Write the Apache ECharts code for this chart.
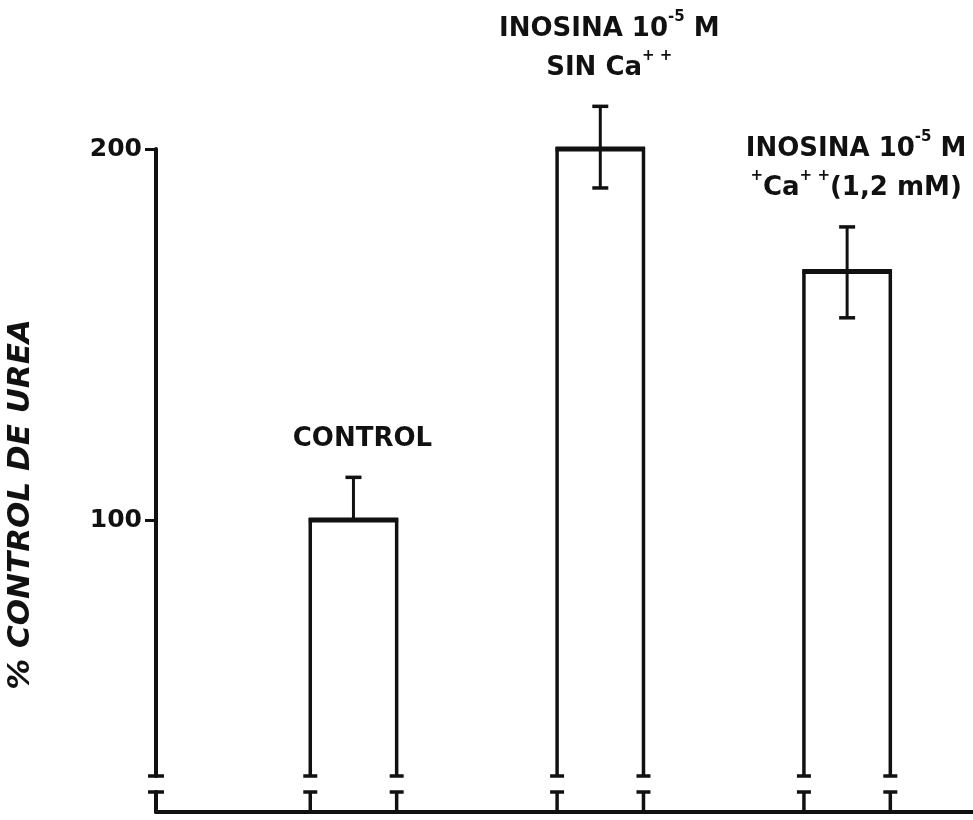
<!DOCTYPE html>
<html><head><meta charset="utf-8">
<script src="https://cdn.jsdelivr.net/npm/echarts@6/dist/echarts.min.js"></script>
<style>html,body{margin:0;padding:0;background:#fff}#c{width:973px;height:820px}</style>
</head><body><div id="c"></div>
<script>
// ---- data ----
const categories = ['CONTROL', 'INOSINA 10{s|-5} M\nSIN Ca{s|+ +}', 'INOSINA 10{s|-5} M\n{s|+}Ca{s|+ +}(1,2 mM)'];
const xPositions = [1, 2, 3];
const values = [100, 200, 167];
const errorUp = [11.5, 11.5, 12];
const errorDown = [0, 10.5, 12.5];
const yTickValues = [100, 200];
const yAxisTitle = '% CONTROL DE UREA';

// ---- layout constants ----
const UPPER_MIN = 31, UPPER_MAX = 200, LOWER_MIN = 0, LOWER_MAX = 5.4;
const X_MIN = 0.2, X_MAX = 3.51;
const BAR_W = 0.35;
const INK = '#111';
const FONT = 'DejaVu Sans';

const data = categories.map((c, i) => [xPositions[i], values[i], errorUp[i], errorDown[i], i]);

function seg(x1, y1, x2, y2, w) {
  return { type: 'line', shape: { x1, y1, x2, y2 }, style: { stroke: INK, lineWidth: w, lineCap: 'butt' } };
}

function renderUpper(params, api) {
  const x = api.value(0), v = api.value(1), eu = api.value(2), ed = api.value(3), idx = api.value(4);
  const top = api.coord([x, v]);
  const bot = api.coord([x, UPPER_MIN]);
  const hw = api.size([BAR_W, 0])[0] / 2;
  const L = top[0] - hw, R = top[0] + hw;
  const ch = [];
  ch.push(seg(L, top[1] - 2, L, bot[1], 3.5));
  ch.push(seg(R, top[1] - 2, R, bot[1], 3.5));
  ch.push(seg(L - 1.5, top[1], R + 1.5, top[1], 5));
  // break caps
  ch.push(seg(L - 7, bot[1], L + 7, bot[1], 3.5));
  ch.push(seg(R - 7, bot[1], R + 7, bot[1], 3.5));
  // error bar
  const eTop = api.coord([x, v + eu]);
  const eBot = api.coord([x, v - ed]);
  ch.push(seg(top[0], eTop[1], top[0], eBot[1], 3));
  ch.push(seg(top[0] - 8, eTop[1], top[0] + 8, eTop[1], 3.5));
  if (ed > 0) ch.push(seg(top[0] - 8, eBot[1], top[0] + 8, eBot[1], 3.5));
  // annotation
  ch.push({
    type: 'text', x: top[0] + 9, y: eTop[1] - 19,
    style: {
      text: categories[idx], fill: INK, align: 'center', verticalAlign: 'bottom',
      fontFamily: FONT, fontSize: 26, fontWeight: 'bold', lineHeight: 39,
      rich: { s: { fontSize: 15, fontWeight: 'bold', fontFamily: FONT, verticalAlign: 'top', lineHeight: 39, padding: [0, 0, 10, 0] } }
    }
  });
  return { type: 'group', children: ch };
}

function renderLower(params, api) {
  const x = api.value(0);
  const b = api.coord([x, LOWER_MIN]);
  const t = api.coord([x, LOWER_MAX]);
  const hw = api.size([BAR_W, 0])[0] / 2;
  const L = b[0] - hw, R = b[0] + hw;
  return {
    type: 'group', children: [
      seg(L, t[1], L, b[1], 3.5), seg(R, t[1], R, b[1], 3.5),
      seg(L - 7, t[1], L + 7, t[1], 3.5), seg(R - 7, t[1], R + 7, t[1], 3.5)
    ]
  };
}

const chart = echarts.init(document.getElementById('c'), null, { renderer: 'canvas' });
const hidden = { show: false };
chart.setOption({
  backgroundColor: '#fff',
  animation: false,
  grid: [
    { left: 156, right: 0, top: 149, height: 627, containLabel: false, outerBoundsMode: 'none' },
    { left: 156, right: 0, top: 792, height: 20, containLabel: false, outerBoundsMode: 'none' }
  ],
  xAxis: [
    { type: 'value', gridIndex: 0, min: X_MIN, max: X_MAX, axisLine: hidden, axisTick: hidden, axisLabel: hidden, splitLine: hidden },
    { type: 'value', gridIndex: 1, min: X_MIN, max: X_MAX, axisLine: { show: true, lineStyle: { color: INK, width: 4 } }, axisTick: hidden, axisLabel: hidden, splitLine: hidden }
  ],
  yAxis: [
    {
      type: 'value', gridIndex: 0, min: UPPER_MIN, max: UPPER_MAX,
      axisLine: { show: true, lineStyle: { color: INK, width: 4 } },
      axisTick: { show: true, customValues: yTickValues, length: 11, lineStyle: { color: INK, width: 3 } },
      axisLabel: { show: true, customValues: yTickValues, color: INK, fontSize: 25, fontWeight: 'bold', fontFamily: FONT, margin: 14 },
      splitLine: hidden,
      name: yAxisTitle, nameLocation: 'middle', nameGap: 120, nameRotate: 90,
      nameTextStyle: { color: INK, fontSize: 31, fontFamily: FONT, fontStyle: 'italic', fontWeight: 'bold', padding: [0, 84, 0, 0] }
    },
    {
      type: 'value', gridIndex: 1, min: LOWER_MIN, max: LOWER_MAX,
      axisLine: { show: true, lineStyle: { color: INK, width: 4 } }, axisTick: hidden, axisLabel: hidden, splitLine: hidden
    }
  ],
  series: [
    { type: 'custom', xAxisIndex: 0, yAxisIndex: 0, data: data, encode: { x: 0, y: 1 }, renderItem: renderUpper, clip: false },
    { type: 'custom', xAxisIndex: 1, yAxisIndex: 1, data: data, encode: { x: 0, y: 1 }, renderItem: renderLower, clip: false }
  ]
});

// axis break caps on the y axis
const pUp = chart.convertToPixel({ gridIndex: 0 }, [X_MIN, UPPER_MIN]);
const pLo = chart.convertToPixel({ gridIndex: 1 }, [X_MIN, LOWER_MAX]);
chart.setOption({
  graphic: [
    { type: 'line', shape: { x1: pUp[0] - 8, y1: pUp[1], x2: pUp[0] + 8, y2: pUp[1] }, style: { stroke: INK, lineWidth: 3.5 } },
    { type: 'line', shape: { x1: pLo[0] - 8, y1: pLo[1], x2: pLo[0] + 8, y2: pLo[1] }, style: { stroke: INK, lineWidth: 3.5 } }
  ]
});
</script></body></html>
